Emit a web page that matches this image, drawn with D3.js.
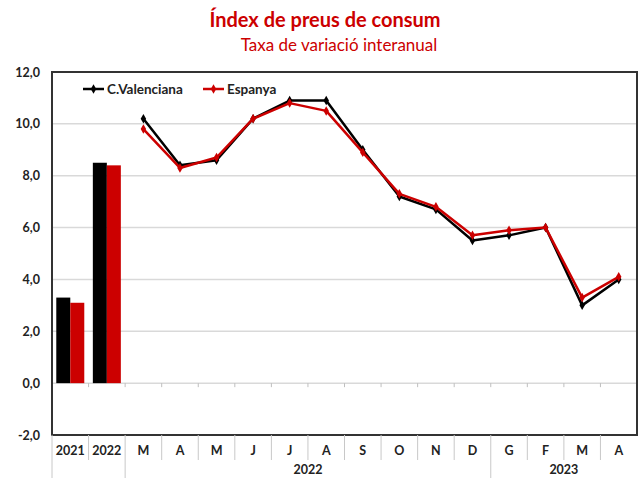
<!DOCTYPE html>
<html lang="ca">
  <head>
    <meta charset="UTF-8" />
    <title>Índex de preus de consum</title>
    <style>
      body { margin: 0; background: #fff; }
      svg { display: block; font-family: Lato, "Open Sans", sans-serif; }
    </style>
  </head>
  <body>
    <svg width="639" height="478"></svg>
    <script src="https://cdn.jsdelivr.net/npm/d3@7"></script>
    <script>
      // categories on the x axis
      const categories = ["2021", "2022", "M", "A", "M", "J", "J", "A", "S", "O", "N", "D", "G", "F", "M", "A"];
      const yearGroups = [
        { label: "", from: 0, to: 2 },
        { label: "2022", from: 2, to: 12 },
        { label: "2023", from: 12, to: 16 }
      ];

      // annual averages (bars)
      const annualVal = [3.3, 8.5]; // C.Valenciana
      const annualEsp = [3.1, 8.4]; // Espanya

      // monthly values (lines), M 2022 .. A 2023
      const monthlyVal = [10.2, 8.4, 8.6, 10.2, 10.9, 10.9, 9.0, 7.2, 6.7, 5.5, 5.7, 6.0, 3.0, 4.0];
      const monthlyEsp = [9.8, 8.3, 8.7, 10.2, 10.8, 10.5, 8.9, 7.3, 6.8, 5.7, 5.9, 6.0, 3.3, 4.1];

      const yTicks = [-2, 0, 2, 4, 6, 8, 10, 12];

      const colVal = "#000000";
      const colEsp = "#cc0000";

      const svg = d3.select("svg");
      const plotL = 52, plotR = 637, plotT = 72, plotB = 435;

      const x = d3.scaleBand().domain(d3.range(categories.length)).range([plotL, plotR]);
      const y = d3.scaleLinear().domain([-2, 12]).range([plotB, plotT]);

      // title
      svg.append("text")
        .attr("x", 325).attr("y", 27)
        .attr("text-anchor", "middle")
        .attr("fill", "#cc0000")
        .style("font-size", "20px").style("font-weight", "bold")
        .text("Índex de preus de consum");
      svg.append("text")
        .attr("x", 339).attr("y", 51)
        .attr("text-anchor", "middle")
        .attr("fill", "#cc0000")
        .style("font-size", "17px")
        .text("Taxa de variació interanual");

      // gridlines
      svg.append("g")
        .selectAll("line")
        .data(yTicks.filter(d => d > -2 && d < 12))
        .join("line")
        .attr("x1", plotL).attr("x2", plotR)
        .attr("y1", d => y(d)).attr("y2", d => y(d))
        .attr("stroke", "#d9d9d9").attr("stroke-width", 1.5);

      // y axis labels
      const yAxis = d3.axisLeft(y).tickValues(yTicks).tickSize(0).tickPadding(12)
        .tickFormat(d => d.toFixed(1).replace(".", ","));
      svg.append("g")
        .attr("transform", `translate(${plotL},0)`)
        .call(yAxis)
        .call(g => g.select(".domain").remove())
        .call(g => g.selectAll("text")
          .style("font-family", "Lato, sans-serif")
          .style("font-size", "12.5px").style("font-weight", "bold").attr("fill", "#222"));

      // small ticks on the zero line
      svg.append("g")
        .selectAll("line")
        .data(d3.range(1, categories.length))
        .join("line")
        .attr("x1", d => x(d)).attr("x2", d => x(d))
        .attr("y1", y(0)).attr("y2", y(0) + 4)
        .attr("stroke", "#bfbfbf");

      // bars
      const bw = 14;
      const bars = svg.append("g");
      bars.selectAll(".bVal")
        .data(annualVal)
        .join("rect")
        .attr("class", "bVal")
        .attr("x", (d, i) => x(i) + x.bandwidth() / 2 - bw)
        .attr("width", bw)
        .attr("y", d => y(d))
        .attr("height", d => y(0) - y(d))
        .attr("fill", colVal);
      bars.selectAll(".bEsp")
        .data(annualEsp)
        .join("rect")
        .attr("class", "bEsp")
        .attr("x", (d, i) => x(i) + x.bandwidth() / 2)
        .attr("width", bw)
        .attr("y", d => y(d))
        .attr("height", d => y(0) - y(d))
        .attr("fill", colEsp);

      // lines
      const cx = i => x(i + 2) + x.bandwidth() / 2;
      const line = d3.line().x((d, i) => cx(i)).y(d => y(d));
      const diamond = d3.symbol().type(d3.symbolDiamond).size(26);

      function drawSeries(data, color) {
        const g = svg.append("g");
        g.append("path")
          .datum(data)
          .attr("d", line)
          .attr("fill", "none")
          .attr("stroke", color)
          .attr("stroke-width", 2.5)
          .attr("stroke-linejoin", "round");
        g.selectAll("path.pt")
          .data(data)
          .join("path")
          .attr("class", "pt")
          .attr("d", diamond)
          .attr("transform", (d, i) => `translate(${cx(i)},${y(d)})`)
          .attr("fill", color);
      }
      drawSeries(monthlyVal, colVal);
      drawSeries(monthlyEsp, colEsp);

      // plot frame
      svg.append("rect")
        .attr("x", plotL).attr("y", plotT)
        .attr("width", plotR - plotL).attr("height", plotB - plotT)
        .attr("fill", "none").attr("stroke", "#333").attr("stroke-width", 2);

      // x axis: category labels and separators
      const xa = svg.append("g");
      xa.selectAll("text.cat")
        .data(categories)
        .join("text")
        .attr("class", "cat")
        .attr("x", (d, i) => x(i) + x.bandwidth() / 2)
        .attr("y", 455)
        .attr("text-anchor", "middle")
        .style("font-size", "12.5px").style("font-weight", "bold").attr("fill", "#222")
        .text(d => d);

      const groupEdges = new Set(yearGroups.map(g => g.from));
      xa.selectAll("line.sep")
        .data(d3.range(0, categories.length))
        .join("line")
        .attr("class", "sep")
        .attr("x1", d => x(d)).attr("x2", d => x(d))
        .attr("y1", plotB).attr("y2", d => groupEdges.has(d) ? 478 : 460)
        .attr("stroke", "#c8c8c8").attr("stroke-width", 1);

      xa.selectAll("text.yr")
        .data(yearGroups.filter(g => g.label))
        .join("text")
        .attr("class", "yr")
        .attr("x", g => (x(g.from) + x(g.to - 1) + x.bandwidth()) / 2)
        .attr("y", 474)
        .attr("text-anchor", "middle")
        .style("font-size", "12.5px").style("font-weight", "bold").attr("fill", "#222")
        .text(g => g.label);

      // legend
      const legend = [
        { name: "C.Valenciana", color: colVal, x: 83 },
        { name: "Espanya", color: colEsp, x: 203 }
      ];
      const lg = svg.append("g");
      legend.forEach(l => {
        lg.append("line")
          .attr("x1", l.x).attr("x2", l.x + 21)
          .attr("y1", 89).attr("y2", 89)
          .attr("stroke", l.color).attr("stroke-width", 2.5);
        lg.append("path")
          .attr("d", diamond)
          .attr("transform", `translate(${l.x + 10.5},89)`)
          .attr("fill", l.color);
        lg.append("text")
          .attr("x", l.x + 24).attr("y", 93.5)
          .style("font-size", "13.5px").style("font-weight", "bold").attr("fill", "#222")
          .text(l.name);
      });
    </script>
  </body>
</html>
